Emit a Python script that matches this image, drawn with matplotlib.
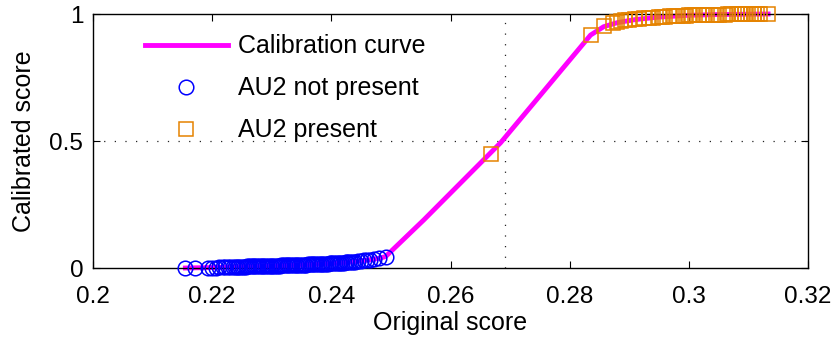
import matplotlib
matplotlib.use("Agg")
import matplotlib.pyplot as plt

plt.rcParams['font.family'] = ['Liberation Sans', 'DejaVu Sans']

# calibration curve (original score -> calibrated score)
curve_x = [0.2155, 0.2200, 0.2250, 0.2300, 0.2350, 0.2400, 0.2430, 0.2460,
           0.2480, 0.2491, 0.2555, 0.2684, 0.2835, 0.2857, 0.2880, 0.2910,
           0.2950, 0.3000, 0.3050, 0.3133]
curve_y = [0.000, 0.002, 0.005, 0.008, 0.012, 0.018, 0.023, 0.031,
           0.038, 0.045, 0.189, 0.493, 0.917, 0.950, 0.966, 0.978,
           0.988, 0.995, 0.998, 1.000]

# AU2 not present samples
neg_x = [0.2155, 0.2171, 0.2193, 0.2200, 0.2206, 0.2212, 0.2218, 0.2222, 0.2226, 0.2230,
         0.2235, 0.2238, 0.2241, 0.2244, 0.2247, 0.2250, 0.2253, 0.2256, 0.2259, 0.2262,
         0.2265, 0.2268, 0.2271, 0.2274, 0.2277, 0.2280, 0.2283, 0.2286, 0.2289, 0.2292,
         0.2295, 0.2298, 0.2301, 0.2304, 0.2307, 0.2310, 0.2313, 0.2316, 0.2319, 0.2322,
         0.2325, 0.2328, 0.2331, 0.2334, 0.2337, 0.2340, 0.2343, 0.2346, 0.2349, 0.2352,
         0.2355, 0.2358, 0.2361, 0.2364, 0.2367, 0.2370, 0.2373, 0.2376, 0.2379, 0.2382,
         0.2385, 0.2388, 0.2391, 0.2394, 0.2397, 0.2400, 0.2403, 0.2406, 0.2409, 0.2412,
         0.2415, 0.2418, 0.2421, 0.2424, 0.2427, 0.2430, 0.2433, 0.2437, 0.2440, 0.2444,
         0.2450, 0.2455, 0.2460, 0.2465, 0.2472, 0.2480, 0.2491]
neg_y = [0.000, 0.000, 0.001, 0.002, 0.002, 0.003, 0.003, 0.003, 0.004, 0.004,
         0.004, 0.004, 0.004, 0.005, 0.005, 0.005, 0.005, 0.005, 0.006, 0.006,
         0.006, 0.006, 0.006, 0.007, 0.007, 0.007, 0.007, 0.007, 0.008, 0.008,
         0.008, 0.008, 0.008, 0.009, 0.009, 0.009, 0.009, 0.010, 0.010, 0.010,
         0.010, 0.011, 0.011, 0.011, 0.011, 0.012, 0.012, 0.012, 0.012, 0.013,
         0.013, 0.013, 0.014, 0.014, 0.014, 0.015, 0.015, 0.015, 0.016, 0.016,
         0.016, 0.017, 0.017, 0.017, 0.018, 0.018, 0.019, 0.019, 0.019, 0.020,
         0.020, 0.021, 0.021, 0.022, 0.022, 0.023, 0.024, 0.025, 0.025, 0.026,
         0.028, 0.030, 0.031, 0.033, 0.035, 0.038, 0.044]

# AU2 present samples
pos_x = [0.2668, 0.2835, 0.2857, 0.2872, 0.2880, 0.2886, 0.2893, 0.2900, 0.2910, 0.2917,
         0.2925, 0.2933, 0.2940, 0.2950, 0.2955, 0.2960, 0.2968, 0.2975, 0.2980, 0.2990,
         0.2995, 0.3000, 0.3005, 0.3010, 0.3017, 0.3025, 0.3030, 0.3040, 0.3045, 0.3050,
         0.3060, 0.3065, 0.3070, 0.3080, 0.3085, 0.3090, 0.3095, 0.3100, 0.3105, 0.3110,
         0.3115, 0.3120, 0.3133]
pos_y = [0.449, 0.917, 0.952, 0.966, 0.970, 0.972, 0.975, 0.977, 0.979, 0.981,
         0.983, 0.985, 0.986, 0.988, 0.989, 0.990, 0.991, 0.992, 0.993, 0.994,
         0.994, 0.995, 0.995, 0.996, 0.996, 0.997, 0.997, 0.998, 0.998, 0.998,
         0.998, 0.999, 0.999, 0.999, 0.999, 0.999, 1.000, 1.000, 1.000, 1.000,
         1.000, 1.000, 1.000]

x_ticks = [0.2, 0.22, 0.24, 0.26, 0.28, 0.3, 0.32]
x_tick_labels = ['0.2', '0.22', '0.24', '0.26', '0.28', '0.3', '0.32']
y_ticks = [0, 0.5, 1]
y_tick_labels = ['0', '0.5', '1']
threshold_x = 0.2691
threshold_y = 0.5

fig = plt.figure(figsize=(8.35, 3.39), dpi=100)
ax = fig.add_axes([0.1114, 0.2094, 0.8563, 0.7493])

ax.plot(curve_x, curve_y, color='#FF00FF', linewidth=3.5, label='Calibration curve',
        zorder=2, clip_on=False)
ax.plot(neg_x, neg_y, linestyle='none', marker='o', markersize=10.5, markerfacecolor='none',
        markeredgecolor='#0000FF', markeredgewidth=1.1, label='AU2 not present',
        zorder=3, clip_on=False)
ax.plot(pos_x, pos_y, linestyle='none', marker='s', markersize=9.5, markerfacecolor='none',
        markeredgecolor='#E58300', markeredgewidth=1.1, label='AU2 present',
        zorder=3, clip_on=False)

# dotted threshold guides
ax.plot([threshold_x, threshold_x], [0, 1], color='#222222', linewidth=0.9,
        linestyle=(0, (1, 7.5)), zorder=1)
ax.plot([0.2, 0.32], [threshold_y, threshold_y], color='#222222', linewidth=0.9,
        linestyle=(0, (1, 7.5)), zorder=1)

ax.set_xlim(0.2, 0.32)
ax.set_ylim(0, 1)
ax.set_xticks(x_ticks)
ax.set_xticklabels(x_tick_labels)
ax.set_yticks(y_ticks)
ax.set_yticklabels(y_tick_labels)
ax.tick_params(direction='in', length=5, width=0.8, top=True, right=True,
               labelsize=17.5)
ax.tick_params(axis='x', pad=13)
ax.tick_params(axis='y', pad=7)
for s in ax.spines.values():
    s.set_linewidth(1.0)

ax.set_xlabel('Original score', fontsize=18, labelpad=2)
ax.set_ylabel('Calibrated score', fontsize=18, labelpad=10)

ax.legend(loc='upper left', bbox_to_anchor=(0.0727, 0.92), frameon=False, fontsize=18,
          borderpad=0, borderaxespad=0, handlelength=3.3, handletextpad=0.4,
          labelspacing=0.72)

fig.savefig('out.png', dpi=100)
